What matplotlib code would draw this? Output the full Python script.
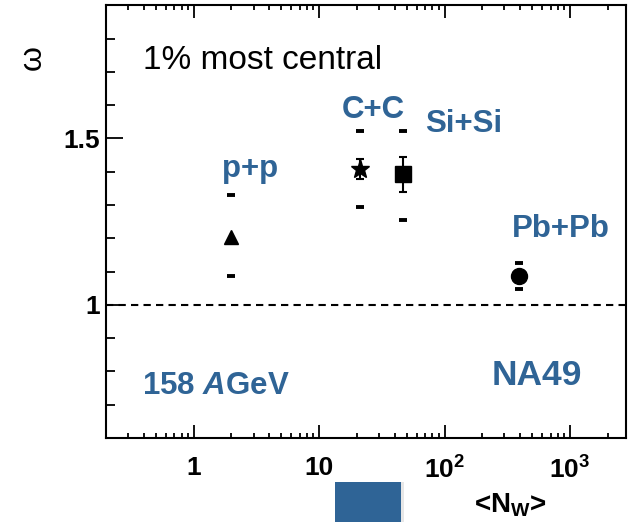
import math

import matplotlib
matplotlib.use("Agg")
import matplotlib.pyplot as plt
from matplotlib.ticker import LogLocator, MultipleLocator, FixedLocator, FuncFormatter, NullFormatter
from matplotlib.patches import Rectangle

plt.rcParams['font.family'] = ['Liberation Sans', 'DejaVu Sans']
plt.rcParams['mathtext.fontset'] = 'custom'
plt.rcParams['mathtext.rm'] = 'Liberation Sans'
plt.rcParams['mathtext.bf'] = 'Liberation Sans:bold'
plt.rcParams['mathtext.it'] = 'Liberation Sans:italic'
plt.rcParams['mathtext.bfit'] = 'Liberation Sans:italic:bold'

BLUE = '#2f6496'

# scaled variance vs. mean number of wounded nucleons, 1% most central
systems = ['p+p', 'C+C', 'Si+Si', 'Pb+Pb']
n_wounded = [2.0, 21.0, 47.0, 395.0]
omega = [1.205, 1.407, 1.392, 1.087]
omega_stat = [0.01, 0.03, 0.052, 0.012]
omega_sys_hi = [1.331, 1.521, 1.521, 1.127]
omega_sys_lo = [1.087, 1.295, 1.256, 1.048]

markers = ['^', '*', 's', 'o']
marker_sizes = [10.5, 14, 11, 11.5]
cap_sizes = [0, 3, 3, 0]   # no caps where the bar hides inside the marker
# label anchor (axes fraction, left/baseline) for each system
label_pos = [(0.223, 0.603), (0.454, 0.739), (0.613, 0.707), (0.781, 0.464)]

fig = plt.figure(figsize=(6.33, 5.22), dpi=100)
ax = fig.add_axes([0.1675, 0.161, 0.8215, 0.829])

ax.axhline(1.0, color='black', lw=1.5, ls=(0, (3.5, 2.5)), zorder=1)

for i, name in enumerate(systems):
    # statistical errors first, marker drawn over them
    ax.errorbar(n_wounded[i], omega[i], yerr=omega_stat[i], fmt='none',
                ecolor='black', elinewidth=1.5, capsize=cap_sizes[i],
                capthick=1.5, zorder=2)
    ax.plot(n_wounded[i], omega[i], ls='none', marker=markers[i],
            ms=marker_sizes[i], color='black', zorder=3)
    # systematic limits as short dashes
    ax.plot([n_wounded[i]] * 2, [omega_sys_lo[i], omega_sys_hi[i]], ls='none',
            marker='_', ms=5.5, mew=2.8, color='black', zorder=3)
    ax.text(label_pos[i][0], label_pos[i][1], name, transform=ax.transAxes,
            color=BLUE, fontsize=22.5, fontweight='bold', va='baseline')

ax.text(0.071, 0.852, '1% most central', transform=ax.transAxes,
        fontsize=24, color='black', va='baseline')
ax.text(0.069, 0.102, r'158 $\mathbfit{A}$GeV', transform=ax.transAxes,
        fontsize=22.5, fontweight='bold', color=BLUE, va='baseline')
ax.text(0.742, 0.122, 'NA49', transform=ax.transAxes,
        fontsize=25.5, fontweight='bold', color=BLUE, va='baseline')

ax.set_xscale('log')
ax.set_xlim(0.2, 2800)
ax.set_ylim(0.6, 1.9)

ax.xaxis.set_major_locator(LogLocator(base=10, numticks=10))
ax.xaxis.set_minor_locator(LogLocator(base=10, subs=range(2, 10), numticks=50))
ax.xaxis.set_minor_formatter(NullFormatter())


def xfmt(v, pos):
    if v < 0.5:
        return ''
    if v < 5:
        return '1'
    if v < 50:
        return '10'
    return r'$\mathbf{10^{%d}}$' % round(math.log10(v))


ax.xaxis.set_major_formatter(FuncFormatter(xfmt))
ax.yaxis.set_major_locator(FixedLocator([1.0, 1.5]))
ax.yaxis.set_minor_locator(MultipleLocator(0.1))
ax.yaxis.set_major_formatter(FuncFormatter(lambda v, p: '1' if abs(v - 1) < 1e-6 else '%g' % v))

ax.tick_params(axis='x', which='both', direction='in', top=True, width=1.3)
ax.tick_params(axis='x', which='major', length=9.5, labelsize=19, pad=13)
ax.tick_params(axis='x', which='minor', length=3.7)
ax.tick_params(axis='y', which='both', direction='in', right=False, width=1.3)
ax.tick_params(axis='y', which='major', length=12, labelsize=19, pad=4)
ax.tick_params(axis='y', which='minor', length=6.5)
for lbl in ax.get_xticklabels() + ax.get_yticklabels():
    lbl.set_fontweight('bold')
for sp in ax.spines.values():
    sp.set_linewidth(1.5)

fig.text(33 / 633, 1 - 58 / 522, '\u03c9', rotation=90, fontsize=23,
         ha='center', va='center')
fig.text(510 / 633, 1 - 505 / 522, r'<N$_\mathbf{W}$>', fontsize=20,
         fontweight='bold', ha='center', va='center')

# slide decoration under the axis
fig.patches.append(Rectangle((338 / 633, 0), 66 / 633, 40 / 522, transform=fig.transFigure,
                             facecolor='#bbbbbb', alpha=0.35, edgecolor='none'))
fig.patches.append(Rectangle((335 / 633, 0), 66 / 633, 40 / 522, transform=fig.transFigure,
                             facecolor=BLUE, edgecolor='none'))

fig.savefig('out.png', dpi=100)
